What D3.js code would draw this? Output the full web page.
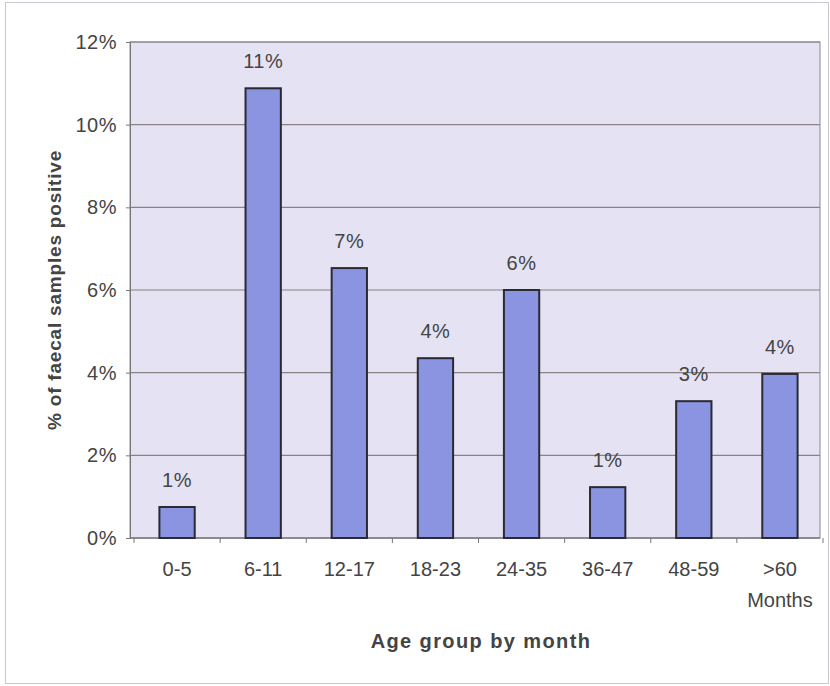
<!DOCTYPE html>
<html><head><meta charset="utf-8">
<script src="https://cdn.jsdelivr.net/npm/d3@7"></script>
<style>body{margin:0;background:#fff;} text{font-family:"Liberation Sans",Arial,sans-serif;}</style>
</head><body>
<svg id="c" width="830" height="686"></svg>
<script>
const categories = ["0-5","6-11","12-17","18-23","24-35","36-47","48-59",">60"];
const values = [0.75,10.88,6.53,4.35,6.0,1.23,3.31,3.97];
const labels = ["1%","11%","7%","4%","6%","1%","3%","4%"];
const yTicks = [0,2,4,6,8,10,12];

const svg = d3.select("#c");
svg.append("rect").attr("x",5.5).attr("y",2.5).attr("width",823).attr("height",681)
  .attr("fill","#fff").attr("stroke","#c8c8d0");
const m = {l:130,t:42,r:820,b:538};
const x = d3.scaleBand().domain(categories).range([134,823]).paddingInner(0.59).paddingOuter(0.295);
const y = d3.scaleLinear().domain([0,12]).range([m.b,m.t]);

svg.append("rect").attr("x",m.l).attr("y",m.t).attr("width",m.r-m.l).attr("height",m.b-m.t)
  .attr("fill","#e4e2f3").attr("stroke","#8c8890");
svg.selectAll(".g").data(yTicks).enter().append("line")
  .attr("x1",m.l).attr("x2",m.r).attr("y1",d=>y(d)).attr("y2",d=>y(d))
  .attr("stroke","#8a8282").attr("stroke-width",1.2);

const ya = svg.append("g").attr("transform",`translate(${m.l},0)`)
  .call(d3.axisLeft(y).tickValues(yTicks).tickFormat(d=>d+"%").tickSize(4).tickPadding(9));
ya.select(".domain").attr("stroke","#777");
ya.selectAll("line").attr("stroke","#777");
ya.selectAll("text").attr("font-size",20).attr("letter-spacing",0.5).attr("fill","#444");

const xa = svg.append("g").attr("transform",`translate(0,${m.b})`)
  .call(d3.axisBottom(x).tickSize(0).tickPadding(24));
xa.select(".domain").remove();
xa.selectAll("text").attr("font-size",20).attr("fill","#444");
svg.append("line").attr("x1",m.l).attr("x2",m.r).attr("y1",m.b).attr("y2",m.b).attr("stroke","#777");
const bounds = d3.range(categories.length+1).map(i=>x.range()[0]+i*x.step()).filter(v=>v<=m.r+6);
svg.selectAll(".xt").data(bounds).enter().append("line")
  .attr("x1",d=>d).attr("x2",d=>d).attr("y1",m.b).attr("y2",m.b+5).attr("stroke","#777");
svg.append("text").attr("x",x(">60")+x.bandwidth()/2).attr("y",607).attr("text-anchor","middle")
  .attr("font-size",20).attr("fill","#444").text("Months");

svg.selectAll(".bar").data(values).enter().append("rect")
  .attr("x",(d,i)=>x(categories[i])).attr("y",d=>y(d))
  .attr("width",x.bandwidth()).attr("height",d=>y(0)-y(d))
  .attr("fill","#8a94e0").attr("stroke","#2a2a35").attr("stroke-width",2);

svg.selectAll(".lab").data(values).enter().append("text")
  .attr("x",(d,i)=>x(categories[i])+x.bandwidth()/2).attr("y",d=>y(d)-20)
  .attr("text-anchor","middle").attr("font-size",20).attr("letter-spacing",0.5).attr("fill","#444")
  .text((d,i)=>labels[i]);

svg.append("text").attr("x",481).attr("y",648).attr("text-anchor","middle")
  .attr("font-size",20).attr("font-weight","bold").attr("letter-spacing",1.4).attr("fill","#444").text("Age group by month");
svg.append("text").attr("transform","translate(61,290) rotate(-90)").attr("text-anchor","middle")
  .attr("font-size",19).attr("font-weight","bold").attr("letter-spacing",0.8).attr("fill","#444").text("% of faecal samples positive");
</script>
</body></html>
